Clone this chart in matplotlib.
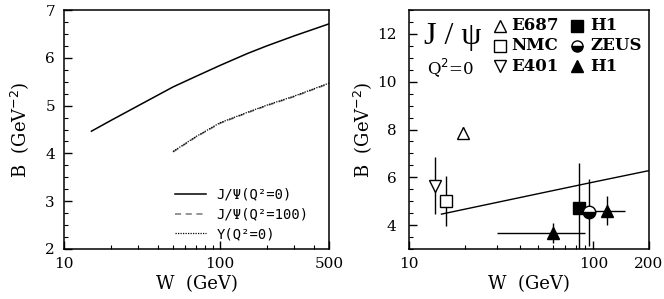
import matplotlib
matplotlib.use("Agg")
import matplotlib.pyplot as plt
from matplotlib.ticker import FixedLocator, MultipleLocator, NullFormatter, FixedFormatter

# ---- data: left panel ----
w_jpsi0 = [15, 20, 30, 50, 70, 100, 150, 200, 300, 500]
b_jpsi0 = [4.465, 4.69, 5.00, 5.39, 5.61, 5.84, 6.09, 6.25, 6.46, 6.71]
w_heavy = [50, 70, 100, 150, 200, 300, 500]
b_jpsi100 = [4.03, 4.34, 4.63, 4.85, 5.00, 5.19, 5.46]
b_upsilon = [4.04, 4.35, 4.64, 4.86, 5.01, 5.20, 5.47]

# ---- data: right panel ----
w_line = [15, 30, 60, 100, 200]
b_line = [4.46, 4.95, 5.44, 5.80, 6.28]

e687_w, e687_b, e687_err = [19.6], [7.86], [0.25]
nmc_w, nmc_b, nmc_err = [15.9], [5.02], [1.05]
e401_w, e401_b, e401_err = [13.9], [5.65], [1.2]
h1sq_w, h1sq_b, h1sq_err = [83.8], [4.71], [1.9]
zeus_w, zeus_b, zeus_err = [94.6], [4.53], [1.4]
h1tri_w = [60.0, 119.0]
h1tri_b = [3.68, 4.60]
h1tri_yerr = [0.42, 0.6]
h1tri_xlo = [30.0, 100.0]
h1tri_xhi = [90.0, 149.0]

fig = plt.figure(figsize=(6.64, 2.99), dpi=100)
axL = fig.add_axes([64/664, 50/299, 265/664, 239/299])
axR = fig.add_axes([409/664, 50/299, 240/664, 239/299])

labfont = "DejaVu Serif"

# ---- left panel ----
axL.plot(w_jpsi0, b_jpsi0, color="black", lw=1.1, label="J/Ψ(Q²=0)")
axL.plot(w_heavy, b_jpsi100, color="#777777", lw=1.1, ls=(0, (4, 3)), label="J/Ψ(Q²=100)")
axL.plot(w_heavy, b_upsilon, color="black", lw=0.9, ls=(0, (1, 1)), label="Υ(Q²=0)")
axL.set_xscale("log")
axL.set_xlim(10, 500)
axL.set_ylim(2, 7)
axL.xaxis.set_major_locator(FixedLocator([10, 100, 500]))
axL.xaxis.set_major_formatter(FixedFormatter(["10", "100", "500"]))
axL.xaxis.set_minor_locator(FixedLocator([20, 30, 40, 50, 60, 70, 80, 90, 200, 300, 400]))
axL.xaxis.set_minor_formatter(NullFormatter())
axL.yaxis.set_major_locator(MultipleLocator(1))
axL.yaxis.set_minor_locator(MultipleLocator(0.25))
leg = axL.legend(loc="lower right", frameon=False, prop=dict(family="DejaVu Sans Mono", size=10),
                 handlelength=2.2, handletextpad=0.75, labelspacing=0.42,
                 bbox_to_anchor=(0.97, -0.02))
axL.set_xlabel("W  (GeV)", fontsize=13, family=labfont, labelpad=3)
axL.set_ylabel("B  (GeV$^{-2}$)", fontsize=13, family=labfont, labelpad=10)

# ---- right panel ----
axR.plot(w_line, b_line, color="black", lw=1.0)
ms = 9
axR.errorbar(e687_w, e687_b, yerr=e687_err, fmt="^", ms=ms, mfc="white", mec="black",
             ecolor="black", elinewidth=1, mew=1, capsize=0)
axR.errorbar(nmc_w, nmc_b, yerr=nmc_err, fmt="s", ms=ms, mfc="white", mec="black",
             ecolor="black", elinewidth=1, mew=1, capsize=0)
axR.errorbar(e401_w, e401_b, yerr=e401_err, fmt="v", ms=ms, mfc="white", mec="black",
             ecolor="black", elinewidth=1, mew=1, capsize=0)
axR.errorbar(h1sq_w, h1sq_b, yerr=h1sq_err, fmt="s", ms=ms, mfc="black", mec="black",
             ecolor="black", elinewidth=1, mew=1, capsize=0)
axR.errorbar(zeus_w, zeus_b, yerr=zeus_err, fmt="o", ms=ms, mfc="black", mfcalt="white",
             fillstyle="bottom", mec="black", ecolor="black", elinewidth=1, mew=1, capsize=0)
xerr_lo = [w - lo for w, lo in zip(h1tri_w, h1tri_xlo)]
xerr_hi = [hi - w for w, hi in zip(h1tri_w, h1tri_xhi)]
axR.errorbar(h1tri_w, h1tri_b, yerr=h1tri_yerr, xerr=[xerr_lo, xerr_hi], fmt="^", ms=ms,
             mfc="black", mec="black", ecolor="black", elinewidth=1, mew=1, capsize=0, ls="none")
axR.set_xscale("log")
axR.set_xlim(10, 200)
axR.set_ylim(3, 13)
axR.xaxis.set_major_locator(FixedLocator([10, 100, 200]))
axR.xaxis.set_major_formatter(FixedFormatter(["10", "100", "200"]))
axR.xaxis.set_minor_locator(FixedLocator([20, 30, 40, 50, 60, 70, 80, 90]))
axR.xaxis.set_minor_formatter(NullFormatter())
axR.yaxis.set_major_locator(MultipleLocator(2))
axR.yaxis.set_minor_locator(MultipleLocator(0.5))
axR.set_xlabel("W  (GeV)", fontsize=13, family=labfont, labelpad=3)
axR.set_ylabel("B  (GeV$^{-2}$)", fontsize=13, family=labfont, labelpad=2)

# legend-like annotations in right panel
serif = "DejaVu Serif"
axR.text(0.18, 0.89, "J / ψ", transform=axR.transAxes, fontsize=23, family="Liberation Serif",
         ha="center", va="center")
axR.text(0.175, 0.76, "Q$^2$=0", transform=axR.transAxes, fontsize=12, family=serif,
         ha="center", va="center")
leg_rows = [0.935, 0.85, 0.765]
col1 = [("^", "white", "E687"), ("s", "white", "NMC"), ("v", "white", "E401")]
col2 = [("s", "black", "H1"), ("o", "zeus", "ZEUS"), ("^", "black", "H1")]
for (mk, fc, lab), yy in zip(col1, leg_rows):
    axR.plot([0.378], [yy], marker=mk, ms=8, mfc=fc, mec="black", mew=1,
             transform=axR.transAxes, clip_on=False)
    axR.text(0.425, yy, lab, transform=axR.transAxes, fontsize=12, family=serif,
             fontweight="bold", va="center", ha="left")
for (mk, fc, lab), yy in zip(col2, leg_rows):
    if fc == "zeus":
        axR.plot([0.70], [yy], marker=mk, ms=8, mfc="black", mfcalt="white", fillstyle="bottom",
                 mec="black", mew=1, transform=axR.transAxes, clip_on=False)
    else:
        axR.plot([0.70], [yy], marker=mk, ms=8, mfc=fc, mec="black", mew=1,
                 transform=axR.transAxes, clip_on=False)
    axR.text(0.755, yy, lab, transform=axR.transAxes, fontsize=12, family=serif,
             fontweight="bold", va="center", ha="left")

for ax, ypad in ((axL, 6.5), (axR, 9)):
    ax.tick_params(which="both", direction="in", top=False, right=False)
    ax.tick_params(which="major", length=6, width=1, labelsize=11)
    ax.tick_params(axis="x", which="major", pad=5.5)
    ax.tick_params(axis="y", which="major", pad=ypad)
    ax.tick_params(which="minor", length=3, width=0.8)
    for sp in ax.spines.values():
        sp.set_linewidth(1.1)
    for lab in ax.get_xticklabels() + ax.get_yticklabels():
        lab.set_family(labfont)

fig.savefig("out.png", dpi=100)
